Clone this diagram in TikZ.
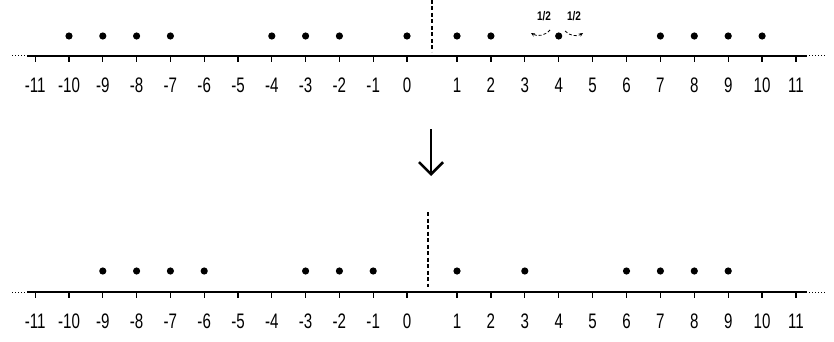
\documentclass[tikz,border=0pt]{standalone}
\usepackage{fontspec}
\setmainfont{Liberation Sans}
\usetikzlibrary{arrows.meta}

\begin{document}
\begin{tikzpicture}[x=1pt, y=-1pt,
  axisline/.style={line width=1.3pt},
  tickmark/.style={line width=1.3pt},
  numlbl/.style={font=\fontsize{21}{21}\selectfont, xscale=0.72, inner sep=0pt},
  halflbl/.style={font=\bfseries\fontsize{12.5}{12.5}\selectfont, xscale=0.8, inner sep=0pt},
  hop/.style={densely dashed, line width=0.8pt, -{Stealth[length=4pt, width=3.5pt]}},
  cutline/.style={dashed, line width=1.1pt, dash pattern=on 4pt off 2.5pt}]
\useasboundingbox (0,0) rectangle (834,342);
% two number lines, with a gap between 0 and 1
\foreach \row/\ay in {t/56, b/292}{
  \draw[axisline] (27,\ay) -- (807,\ay);
  \draw[line width=1pt, dotted] (12,\ay) -- (25,\ay);
  \draw[line width=1pt, dotted] (809,\ay) -- (827,\ay);
  \foreach \n in {-11,...,11}{
    \pgfmathsetmacro\xx{\n<1 ? 407+33.8*\n : 457+33.9*(\n-1)}
    \draw[tickmark] (\xx,\ay) -- (\xx,\ay+6);
    \node[numlbl] (\row\n) at (\xx,\ay+29.5) {\n};
  }
}
% particles before the step
\foreach \n in {-10,-9,-8,-7,-4,-3,-2,0,1,2,4,7,8,9,10}{
  \pgfmathsetmacro\xx{\n<1 ? 407+33.8*\n : 457+33.9*(\n-1)}
  \fill (\xx,36) circle (3.6pt);
}
% particles after the step
\foreach \n in {-9,-8,-7,-6,-3,-2,-1,1,3,6,7,8,9}{
  \pgfmathsetmacro\xx{\n<1 ? 407+33.8*\n : 457+33.9*(\n-1)}
  \fill (\xx,271) circle (3.6pt);
}
\draw[cutline] (432,0) -- (432,52);
\draw[cutline] (428,212) -- (428,287);
% jumps of the particle at 4
\node[halflbl] (halfl) at (544,16) {1/2};
\node[halflbl] (halfr) at (574,16) {1/2};
\draw[hop] (550,30) to[bend left=40] (531,33);
\draw[hop] (565,31) to[bend right=40] (583,33);
% step arrow
\coordinate (stepfrom) at (431,129);
\coordinate (stepto) at (431,176);
\draw[line width=2.6pt, -{Straight Barb[length=12pt, width=24pt]}] (stepfrom) -- (stepto);
\end{tikzpicture}
\end{document}
